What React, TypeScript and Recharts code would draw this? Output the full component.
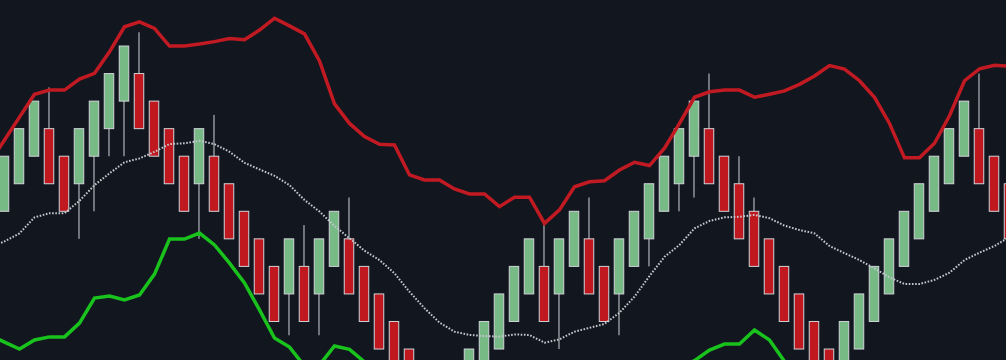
import React from 'react';
import { ComposedChart, Bar, Line, XAxis, YAxis } from 'recharts';

// one entry per session, starting one bar left of the visible area (k = -1 .. 67)
const opens = [
  99, 100, 101, 102, 103, 102, 101, 102, 103, 104,
  105, 104, 103, 102, 101, 102, 101, 100, 99, 98,
  97, 98, 97, 98, 99, 98, 97, 96, 95, 94,
  93, 92, 93, 94, 95, 96, 97, 98, 97, 98,
  99, 98, 97, 98, 99, 100, 101, 102, 103, 102,
  101, 100, 99, 98, 97, 96, 95, 94, 95, 96,
  97, 98, 99, 100, 101, 102, 103, 102, 101,
];
const closes = [
  101, 102, 103, 104, 101, 100, 103, 104, 105, 106,
  103, 102, 101, 100, 103, 100, 99, 98, 97, 96,
  99, 96, 99, 100, 97, 96, 95, 94, 93, 92,
  91, 94, 95, 96, 97, 98, 99, 96, 99, 100,
  97, 96, 99, 100, 101, 102, 103, 104, 101, 100,
  99, 98, 97, 96, 95, 94, 93, 96, 97, 98,
  99, 100, 101, 102, 103, 104, 101, 100, 99,
];
const highs = [
  101, 102, 103, 104, 104.5, 102, 103, 104, 105, 106,
  106.5, 104, 103, 102, 103, 103.5, 101, 100, 99, 98,
  99, 99.5, 99, 100, 100.5, 98, 97, 96, 95, 94,
  93, 94, 95, 96, 97, 98, 99, 99.5, 99, 100,
  100.5, 98, 99, 100, 101, 102, 103, 104, 105, 102,
  102, 100.5, 99, 98, 97, 96, 95, 96, 97, 98,
  99, 100, 101, 102, 103, 104, 105, 102, 101,
];
const lows = [
  99, 100, 101, 102, 101, 100, 99, 100, 102, 102,
  103, 102, 101, 100, 99, 100, 99, 98, 97, 96,
  95.5, 96, 95.5, 98, 97, 96, 95, 94, 93, 92,
  91, 92, 93, 94, 95, 96, 97, 96, 95, 98,
  97, 96, 95.5, 98, 98, 100, 100, 100.5, 101, 100,
  99, 98, 97, 96, 95, 94, 93, 94, 95, 96,
  97, 98, 99, 100, 101, 102, 101, 100, 99,
];

// bollinger bands
const upperBand = [
  101.75, 102.59, 103.42, 104.25, 104.4, 104.4, 104.8, 105.01, 105.79, 106.7,
  106.88, 106.64, 106.0, 106.0, 106.07, 106.16, 106.27, 106.23, 106.58, 107.01,
  106.73, 106.44, 105.46, 103.9, 103.19, 102.71, 102.43, 102.41, 101.32, 101.14,
  101.14, 100.81, 100.63, 100.63, 100.17, 100.51, 100.51, 99.56, 100.05, 100.89,
  101.07, 101.11, 101.5, 101.78, 101.66, 102.29, 103.19, 104.14, 104.34, 104.4,
  104.4, 104.14, 104.25, 104.37, 104.61, 104.91, 105.29, 105.16, 104.74, 104.14,
  103.19, 101.94, 101.94, 102.47, 103.47, 104.74, 105.17, 105.3, 105.27,
];
const middleBand = [
  98.66, 98.91, 99.2, 99.78, 99.93, 99.93, 100.38, 100.95, 101.38, 101.78,
  101.92, 102.16, 102.44, 102.47, 102.56, 102.44, 102.16, 101.76, 101.52, 101.29,
  100.95, 100.41, 99.99, 99.47, 99.02, 98.57, 98.23, 97.75, 97.08, 96.48,
  95.96, 95.63, 95.51, 95.47, 95.45, 95.53, 95.51, 95.23, 95.35, 95.63,
  95.77, 95.91, 96.32, 96.9, 97.65, 98.35, 98.78, 99.38, 99.65, 99.78,
  99.8, 99.87, 99.75, 99.48, 99.32, 99.2, 98.74, 98.48, 98.23, 97.93,
  97.6, 97.36, 97.36, 97.51, 97.77, 98.23, 98.5, 98.74, 99.07,
];
const lowerBand = [
  95.51, 95.25, 95.0, 95.33, 95.44, 95.44, 95.94, 96.85, 96.92, 96.78,
  96.96, 97.72, 98.99, 98.99, 99.21, 98.78, 98.12, 97.4, 96.42, 95.4,
  95.07, 94.38, 94.42, 95.11, 94.99, 94.53, 94.2, 93.9, 93.6, 93.3,
  93.1, 92.9, 92.9, 92.8, 92.9, 93.0, 93.0, 92.9, 92.9, 93.0,
  93.2, 93.3, 93.5, 93.6, 93.9, 94.1, 94.3, 94.58, 94.96, 95.18,
  95.18, 95.69, 95.33, 94.55, 94.1, 93.7, 93.3, 93.1, 92.9, 92.8,
  92.7, 92.7, 92.8, 92.9, 93.0, 93.1, 93.3, 93.5, 93.6,
];

const data = opens.map((open, i) => ({
  k: i - 1,
  open,
  close: closes[i],
  high: highs[i],
  low: lows[i],
  upper: upperBand[i],
  middle: middleBand[i],
  lower: lowerBand[i],
}));

const BG = '#12161f';
const UP = '#77ba86';
const DOWN = '#c0181f';
const EDGE = '#d0d3d8';

const Candle = (props: any) => {
  const { x, y, width, height, payload } = props;
  if (!payload || height == null || isNaN(y)) return null;
  const { open, close, high, low } = payload;
  const cx = x + width / 2;
  const ppu = height / (high - low);
  const top = y + (high - Math.max(open, close)) * ppu;
  const bottom = y + (high - Math.min(open, close)) * ppu;
  return (
    <g>
      <line x1={cx} x2={cx} y1={y} y2={y + height} stroke={EDGE} strokeWidth={1} />
      <rect
        x={cx - 4.75}
        y={top}
        width={9.5}
        height={bottom - top}
        fill={close > open ? UP : DOWN}
        stroke={EDGE}
        strokeWidth={1}
      />
    </g>
  );
};

// the chart is drawn larger than the window and cropped, so the bands
// run off every edge like in a zoomed-in trading view
export default function App() {
  return (
    <div style={{ position: 'relative', width: 1006, height: 360, background: BG, overflow: 'hidden' }}>
      <style>{`body{margin:0;background:${BG}}`}</style>
      <div style={{ position: 'absolute', left: -15, top: 0 }}>
        <ComposedChart width={1036} height={500} data={data} margin={{ top: 0, right: 0, bottom: 0, left: 0 }}>
          <XAxis dataKey="k" type="number" domain={[-1.3, 67.767]} hide />
          <YAxis type="number" domain={[89.519, 107.671]} hide />
          <Line dataKey="upper" type="linear" stroke="#c21a22" strokeWidth={3.5} dot={false} activeDot={false} isAnimationActive={false} />
          <Line dataKey="lower" type="linear" stroke="#19c21c" strokeWidth={3.5} dot={false} activeDot={false} isAnimationActive={false} />
          <Line
            dataKey="middle"
            type="linear"
            stroke="#c4c8ce"
            strokeWidth={2}
            strokeDasharray="1.6 1.6"
            dot={false}
            activeDot={false}
            isAnimationActive={false}
          />
          <Bar
            dataKey={(d: any) => [d.low, d.high]}
            barSize={10}
            shape={<Candle />}
            isAnimationActive={false}
          />
        </ComposedChart>
      </div>
    </div>
  );
}
